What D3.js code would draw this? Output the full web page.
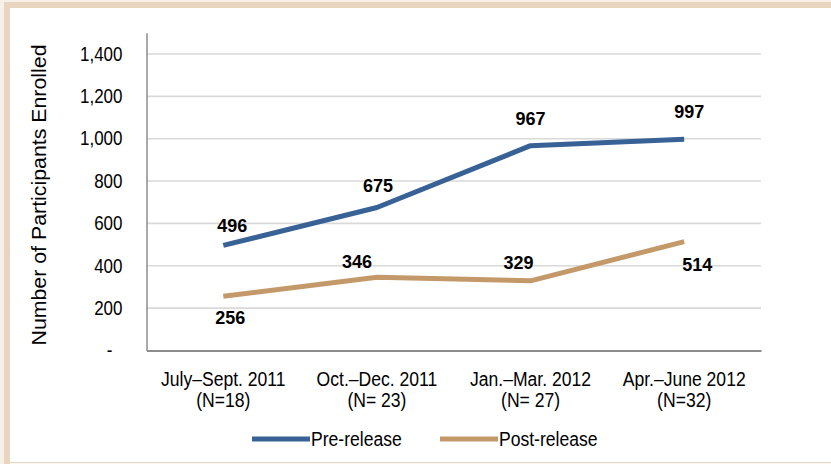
<!DOCTYPE html>
<html>
<head>
<meta charset="utf-8">
<script src="https://cdn.jsdelivr.net/npm/d3@7"></script>
<style>
  html, body { margin: 0; padding: 0; background: #fff; }
  svg { display: block; }
  .narrow { font-family: "Liberation Sans", Arial, sans-serif; }
  .val { font-family: "Liberation Sans", Arial, sans-serif; font-weight: bold; }
</style>
</head>
<body>
<svg id="chart" width="831" height="464"></svg>
<script>
// Enrollment per quarter
const categories = ["July\u2013Sept. 2011", "Oct.\u2013Dec. 2011", "Jan.\u2013Mar. 2012", "Apr.\u2013June 2012"];
const sampleSizes = ["(N=18)", "(N= 23)", "(N= 27)", "(N=32)"];
const preRelease = [496, 675, 967, 997];
const postRelease = [256, 346, 329, 514];
const seriesNames = ["Pre-release", "Post-release"];
const yTicks = [0, 200, 400, 600, 800, 1000, 1200, 1400];

const colors = ["#386296", "#c4996a"];
// label placement per point: [dx, dy] relative to the point
const preLabelOffset = [[9, -13], [1, -16], [0, -21], [5, -21]];
const postLabelOffset = [[7, 28], [-20, -9], [-12, -12], [13, 29]];

const svg = d3.select("#chart");
const W = 831, H = 464;

// condensed look: squeeze glyphs horizontally
function condense(sel, k) {
  sel.each(function () {
    const len = this.getComputedTextLength();
    this.setAttribute("textLength", (len * k).toFixed(2));
    this.setAttribute("lengthAdjust", "spacingAndGlyphs");
  });
}

// frame
svg.append("rect").attr("x", 0).attr("y", 0).attr("width", W).attr("height", H).attr("fill", "#fff");
svg.append("rect").attr("x", 0).attr("y", 0).attr("width", 4).attr("height", H).attr("fill", "#f7f0e9");
svg.append("rect").attr("x", 0).attr("y", 0).attr("width", W).attr("height", 2).attr("fill", "#f7f0e9");
svg.append("rect").attr("x", 4).attr("y", 2).attr("width", 6).attr("height", H - 2).attr("fill", "#e8d5bf");
svg.append("rect").attr("x", 4).attr("y", 2).attr("width", W - 4).attr("height", 6).attr("fill", "#e8d5bf");
svg.append("rect").attr("x", 10).attr("y", 462).attr("width", W - 10).attr("height", 1.2).attr("fill", "#e6d6c4");

const plot = { left: 146.5, right: 761, top: 32.8, bottom: 350.5 };

const x = d3.scaleBand().domain(categories).range([plot.left, plot.right]).padding(0);
const y = d3.scaleLinear().domain([0, 1500]).range([plot.bottom, plot.top]);
const cx = c => x(c) + x.bandwidth() / 2;

// gridlines
svg.append("g")
  .selectAll("line")
  .data(yTicks.filter(t => t > 0))
  .join("line")
  .attr("x1", plot.left).attr("x2", plot.right)
  .attr("y1", d => y(d)).attr("y2", d => y(d))
  .attr("stroke", "#d9d9d9").attr("stroke-width", 1.6);

// y axis
const yAxis = svg.append("g")
  .attr("transform", `translate(${plot.left},0)`)
  .call(d3.axisLeft(y).tickValues(yTicks).tickSize(0).tickPadding(24)
    .tickFormat(d => d === 0 ? "-" : d3.format(",")(d)));
yAxis.select(".domain").attr("stroke", "#8c8c8c").attr("stroke-width", 1.5);
yAxis.selectAll("text")
  .attr("class", "narrow")
  .attr("font-size", 19.5)
  .attr("fill", "#000")
  .attr("dx", d => d === 0 ? -10 : 0)
  .call(condense, 0.87);

// x axis
const xAxis = svg.append("g")
  .attr("transform", `translate(0,${plot.bottom})`)
  .call(d3.axisBottom(x).tickSize(0).tickFormat(""));
xAxis.select(".domain").attr("stroke", "#8c8c8c").attr("stroke-width", 2);

const catLabels = svg.append("g").attr("class", "narrow").attr("font-size", 19.5).attr("text-anchor", "middle");
catLabels.selectAll("text.l1").data(categories).join("text")
  .attr("class", "l1").attr("x", d => cx(d)).attr("y", 385.5).text(d => d)
  .call(condense, 0.9);
catLabels.selectAll("text.l2").data(sampleSizes).join("text")
  .attr("class", "l2").attr("x", (d, i) => cx(categories[i])).attr("y", 407).text(d => d)
  .call(condense, 0.9);

// y axis title
svg.append("text")
  .attr("class", "narrow")
  .attr("font-size", 20.5)
  .attr("text-anchor", "middle")
  .attr("transform", `translate(46,195) rotate(-90)`)
  .text("Number of Participants Enrolled")
  .call(condense, 1.04);

// series lines
const line = d3.line().x((d, i) => cx(categories[i])).y(d => y(d));
[preRelease, postRelease].forEach((vals, s) => {
  svg.append("path")
    .datum(vals)
    .attr("d", line)
    .attr("fill", "none")
    .attr("stroke", colors[s])
    .attr("stroke-width", 5)
    .attr("stroke-linejoin", "round");
});

// value labels
function labels(vals, offs) {
  svg.append("g").attr("class", "val").attr("font-size", 18).attr("text-anchor", "middle")
    .selectAll("text").data(vals).join("text")
    .attr("x", (d, i) => cx(categories[i]) + offs[i][0])
    .attr("y", (d, i) => y(d) + offs[i][1])
    .text(d => d);
}
labels(preRelease, preLabelOffset);
labels(postRelease, postLabelOffset);

// legend
const legend = svg.append("g").attr("class", "narrow").attr("font-size", 19.5);
const legendX = [252, 440];
seriesNames.forEach((name, i) => {
  legend.append("line")
    .attr("x1", legendX[i]).attr("x2", legendX[i] + 58)
    .attr("y1", 439).attr("y2", 439)
    .attr("stroke", colors[i]).attr("stroke-width", 5);
  legend.append("text")
    .attr("x", legendX[i] + 59).attr("y", 446)
    .text(name)
    .call(condense, 0.9);
});
</script>
</body>
</html>
